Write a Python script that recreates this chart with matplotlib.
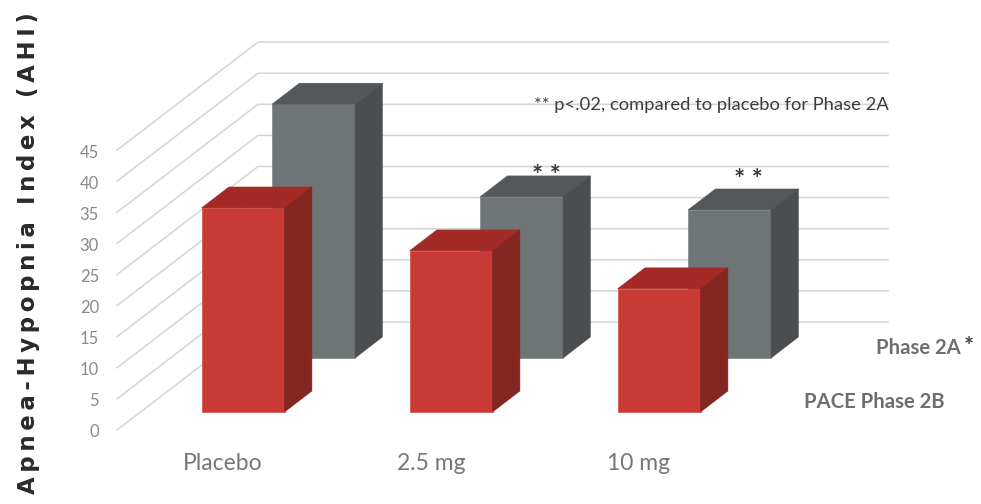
#!/usr/bin/env python3
"""Pseudo-3D bar chart of AHI by dose for Phase 2A and PACE Phase 2B."""

import matplotlib
matplotlib.use('Agg')
import matplotlib.pyplot as plt
from matplotlib.patches import Polygon

categories = ['Placebo', '2.5 mg', '10 mg']
phase_2b = [32.8, 25.9, 19.8]
phase_2a = [40.8, 25.9, 23.8]
y_ticks = [0, 5, 10, 15, 20, 25, 30, 35, 40, 45]

# significance marks over the two dosed Phase 2A bars
star_x = [546, 748]
star_y = [40.9, 40.2]

# one value unit in pixels, and the slant of the floor going backwards
PX_PER_UNIT = 6.22
DEPTH_DX = 141
DEPTH_DY = 108 / PX_PER_UNIT
ORIGIN_X = 117
WALL_END_X = 888
BASE_PX = 430

BAR_X0 = 178
BAR_STEP = 208
BAR_W = 83
DEPTH_2B = (0.167, 0.361)
DEPTH_2A = (0.667, 0.861)

RED = ('#c93a34', '#a32a25', '#842621')
GRAY = ('#6f7577', '#54585a', '#4a4e50')
TEXT = '#6e6e6e'

plt.rcParams['font.family'] = ['Lato', 'DejaVu Sans']


def project(x, depth, value):
    """Floor position (x, depth) at a height to flat axes coordinates."""
    return x + depth * DEPTH_DX, value + depth * DEPTH_DY


def px_to_value(y_px):
    return (BASE_PX - y_px) / PX_PER_UNIT


def draw_bar(ax, i, value, depth, colors, z):
    x0 = BAR_X0 + BAR_STEP * i
    x1 = x0 + BAR_W
    d0, d1 = depth
    front = [project(x0, d0, 0), project(x1, d0, 0), project(x1, d0, value), project(x0, d0, value)]
    top = [project(x0, d0, value), project(x1, d0, value), project(x1, d1, value), project(x0, d1, value)]
    side = [project(x1, d0, 0), project(x1, d1, 0), project(x1, d1, value), project(x1, d0, value)]
    for pts, color in zip((front, top, side), colors):
        ax.add_patch(Polygon(pts, closed=True, facecolor=color, edgecolor=color, linewidth=0.4, zorder=z))


def main():
    fig = plt.figure(figsize=(9.81, 5.04), dpi=100)
    ax = fig.add_axes([0, 0, 1, 1])
    ax.set_xlim(0, 981)
    ax.set_ylim(px_to_value(504), px_to_value(0))
    ax.axis('off')

    # gridlines: slanted side wall, then the back wall
    for tick in y_ticks:
        xs, ys = zip(project(ORIGIN_X, 0, tick), project(ORIGIN_X, 1, tick))
        ax.plot(xs + (WALL_END_X,), ys + (ys[-1],), color='#d4d4d4', linewidth=1.1, zorder=1)
        ax.text(99, tick - 0.4, str(tick), ha='right', va='center', fontsize=12, color='#8a8a8a')

    for i, (val_a, val_b) in enumerate(zip(phase_2a, phase_2b)):
        draw_bar(ax, i, val_a, DEPTH_2A, GRAY, 2)
        draw_bar(ax, i, val_b, DEPTH_2B, RED, 3)
        ax.text(BAR_X0 + BAR_STEP * i + 45, px_to_value(463), categories[i], ha='center',
                va='center', fontsize=16.5, color='#777777')

    for x, y in zip(star_x, star_y):
        ax.text(x, y, '* *', ha='center', va='center', fontsize=19, color='#3a3a3a', fontweight='bold')

    ax.text(534, px_to_value(105), '** p<.02, compared to placebo for Phase 2A', ha='left', va='center',
            fontsize=13.2, color='#3c3c3c')
    ax.text(876, px_to_value(348), 'Phase 2A', ha='left', va='center', fontsize=14.6,
            fontweight='bold', color=TEXT)
    ax.text(964, px_to_value(347), '*', ha='left', va='center', fontsize=17,
            fontweight='bold', color='#444444')
    ax.text(804, px_to_value(402), 'PACE Phase 2B', ha='left', va='center', fontsize=14.6,
            fontweight='bold', color=TEXT)

    # letter spaced title on the left
    label = '\u2009'.join('Apnea-Hypopnia Index (AHI)')
    ax.text(29, px_to_value(253), label, rotation=90, ha='center', va='center', fontsize=16.5,
            fontweight='bold', family=['DejaVu Sans'], color='#2a2a2a')

    fig.savefig('out.png', dpi=100)
    plt.close(fig)


if __name__ == '__main__':
    main()
